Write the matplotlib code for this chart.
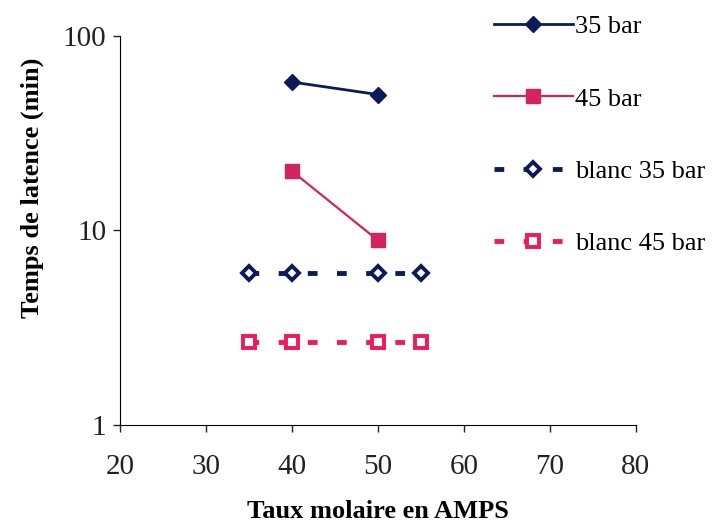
import matplotlib
matplotlib.use("Agg")
import matplotlib.pyplot as plt

# Temps de latence vs taux molaire en AMPS
x_35 = [40, 50]
t_35 = [58, 50]
x_45 = [40, 50]
t_45 = [20.2, 8.9]
x_blanc = [35, 40, 50, 55]
t_blanc35 = [6.05, 6.05, 6.05, 6.05]
t_blanc45 = [2.68, 2.68, 2.68, 2.68]

navy = "#0b1a5a"
pink = "#d4245f"
pink2 = "#f0195a"

plt.rcParams['font.family'] = ['Liberation Serif', 'DejaVu Serif']

fig = plt.figure(figsize=(7.12, 5.22), dpi=100)
ax = fig.add_axes([0.1685, 0.186, 0.7245, 0.745])

ax.plot(x_35, t_35, color=navy, lw=2, marker="D", ms=8, label="35 bar")
ax.plot(x_45, t_45, color=pink, lw=1.6, marker="s", ms=10, label="45 bar")
ax.plot(x_blanc, t_blanc35, color=navy, lw=3.5, ls=(0, (2, 4)), marker="D", ms=7,
        mfc="white", mec=navy, mew=2.8, label="blanc 35 bar")
ax.plot(x_blanc, t_blanc45, color=pink2, lw=3.5, ls=(0, (2, 4)), marker="s", ms=8,
        mfc="white", mec=pink2, mew=2.8, label="blanc 45 bar")

ax.set_yscale("log")
ax.set_ylim(1, 100)
ax.set_xlim(20, 80)
ax.set_xticks([20, 30, 40, 50, 60, 70, 80])
ax.set_yticks([1, 10, 100])
ax.set_yticklabels(["1", "10", "100"])
ax.minorticks_off()
ax.spines["top"].set_visible(False)
ax.spines["right"].set_visible(False)
ax.tick_params(labelsize=21, direction="out", length=5, width=1, colors="#222222")
ax.tick_params(axis="x", pad=16)
ax.tick_params(axis="y", pad=5)

ax.set_xlabel("Taux molaire en AMPS", fontsize=19, fontweight="bold", labelpad=14)
ax.set_ylabel("Temps de latence (min)", fontsize=19, fontweight="bold")
ax.yaxis.set_label_coords(-0.148, 0.61)

fig.legend(loc="upper left", bbox_to_anchor=(0.66, 1.017), frameon=False, fontsize=19,
           labelspacing=1.85, handlelength=3.0, handletextpad=0.1)

fig.savefig("out.png", dpi=100)
